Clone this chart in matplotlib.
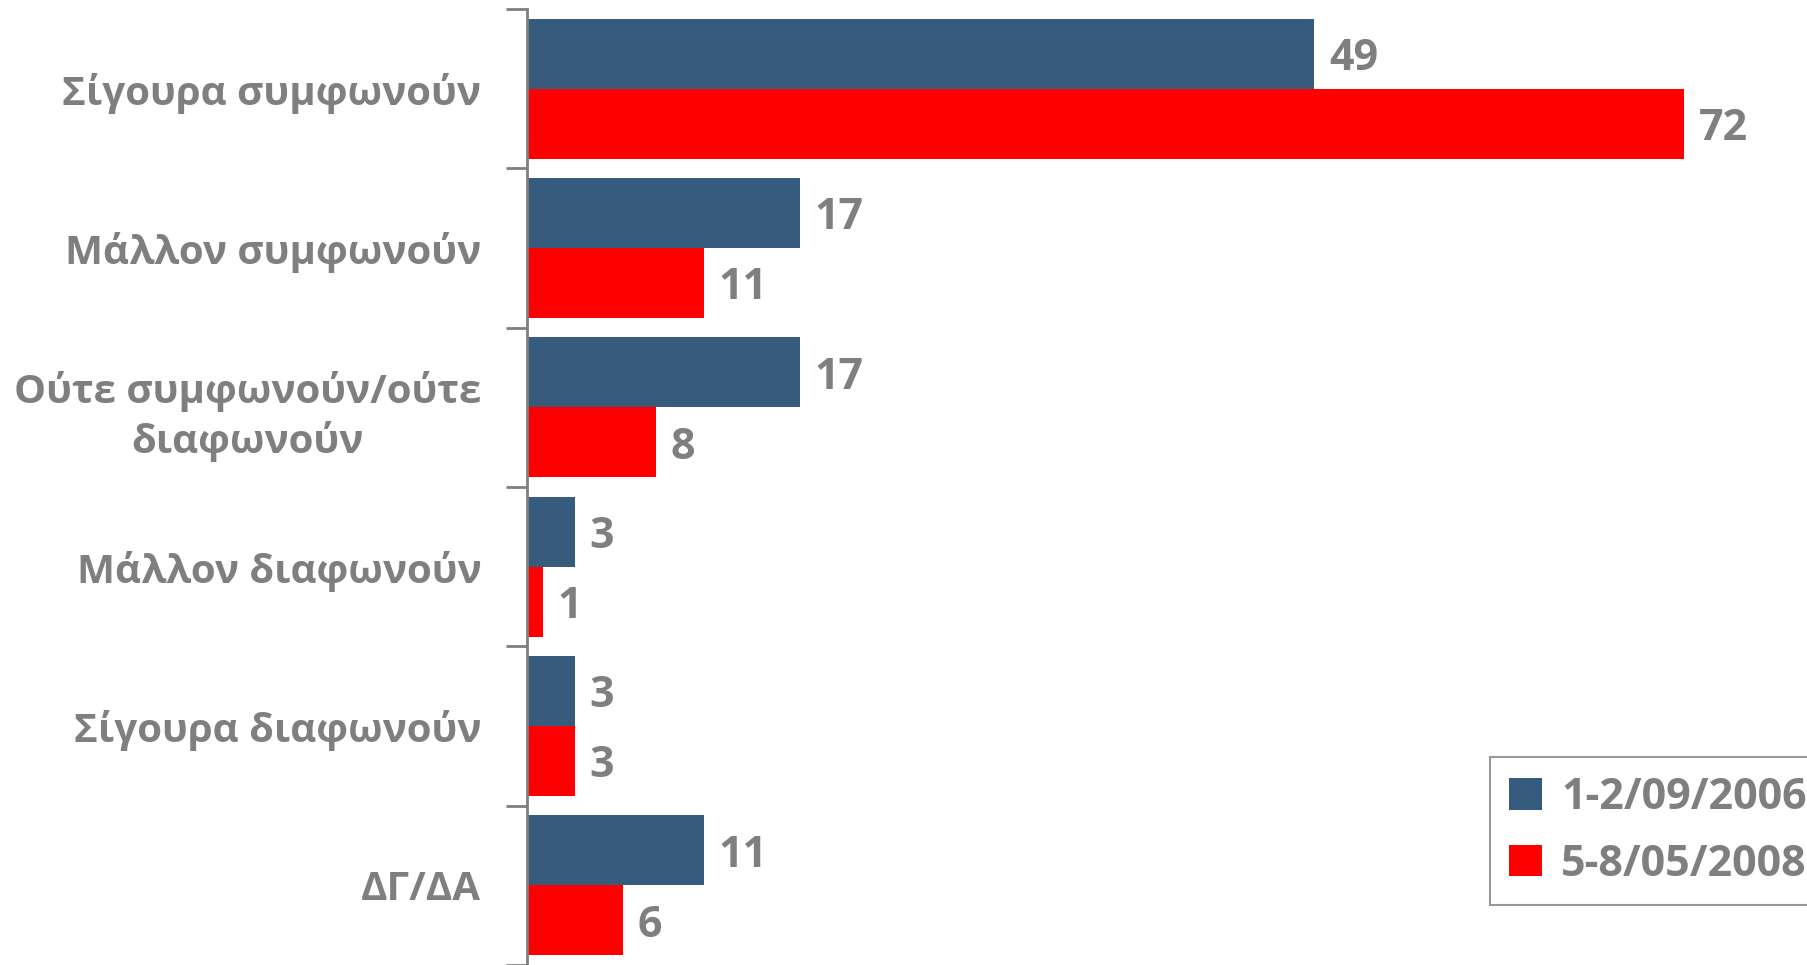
import matplotlib.pyplot as plt
import numpy as np

categories = ["Σίγουρα συμφωνούν", "Μάλλον συμφωνούν", "Ούτε συμφωνούν/ούτε\nδιαφωνούν",
              "Μάλλον διαφωνούν", "Σίγουρα διαφωνούν", "ΔΓ/ΔΑ"]
series_names = ["1-2/09/2006", "5-8/05/2008"]
vals_2006 = [49, 17, 17, 3, 3, 11]
vals_2008 = [72, 11, 8, 1, 3, 6]

BLUE = "#375B7C"
RED = "#FF0000"
GRAY = "#7F7F7F"

plt.rcParams['font.family'] = ['Open Sans', 'DejaVu Sans']
plt.rcParams['font.weight'] = 'bold'

fig = plt.figure(figsize=(18.07, 9.65), dpi=100)
ax = fig.add_axes([527 / 1807, 0.0, 1 - 527 / 1807, 1 - 9 / 965])

y = np.arange(len(categories))
h = 0.44
b1 = ax.barh(y - h / 2, vals_2006, height=h, color=BLUE, label=series_names[0])
b2 = ax.barh(y + h / 2, vals_2008, height=h, color=RED, label=series_names[1])

# value labels just right of each bar
for bars in (b1, b2):
    for rect in bars:
        w = rect.get_width()
        ax.text(w + 0.9, rect.get_y() + rect.get_height() / 2 + 0.03, f"{w:g}",
                va='center', ha='left', fontsize=31, color=GRAY, fontweight='bold')

ax.set_xlim(0, 79.65)
ax.set_ylim(len(categories) - 0.5, -0.5)

for s in ['top', 'right', 'bottom']:
    ax.spines[s].set_visible(False)
ax.spines['left'].set_color(GRAY)
ax.spines['left'].set_linewidth(2)
ax.set_xticks([])

# tick marks between groups, labels at group centres
ax.set_yticks(np.arange(-0.5, len(categories), 1.0))
ax.set_yticklabels([])
ax.tick_params(axis='y', which='major', length=15, width=2, color=GRAY)
ax.set_yticks(y, minor=True)
ax.set_yticklabels(categories, minor=True, fontsize=29, color=GRAY,
                   fontweight='bold', multialignment='center', linespacing=1.3)
ax.tick_params(axis='y', which='minor', length=0, pad=33)

leg = ax.legend(loc='lower left', bbox_to_anchor=(1490 / 1807, 60 / 965),
                bbox_transform=fig.transFigure, fontsize=31, frameon=True,
                fancybox=False, handlelength=0.75, handleheight=0.75,
                handletextpad=0.45, labelspacing=0.55, borderpad=0.45,
                borderaxespad=0)
leg.get_frame().set_edgecolor(GRAY)
leg.get_frame().set_linewidth(1.5)
for t in leg.get_texts():
    t.set_color(GRAY)

fig.savefig('out.png', dpi=100)
